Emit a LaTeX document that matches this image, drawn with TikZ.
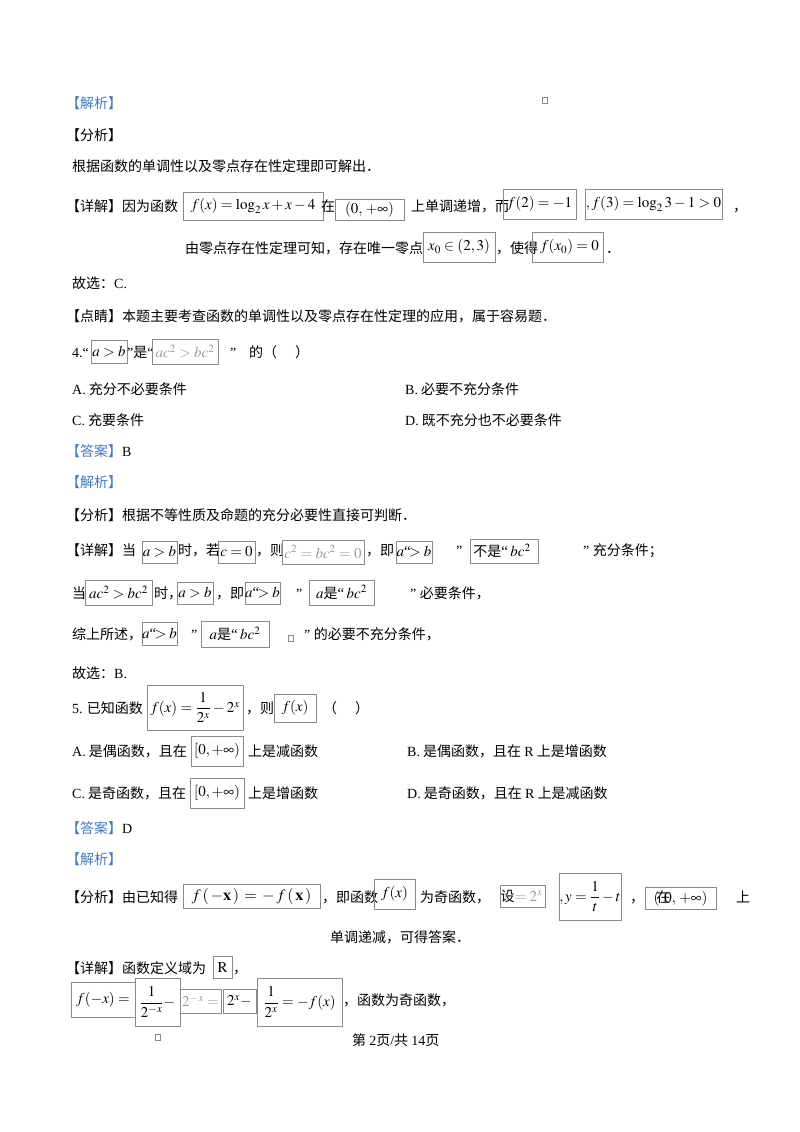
\documentclass[tikz,border=0pt]{standalone}
\usepackage{amsmath}
\usepackage{mathptmx}
\usepackage[no-math]{fontspec}
\setmainfont{Noto Sans CJK SC}
\newfontfamily\latin{Liberation Serif}
\newcommand\lat[1]{{\latin #1}}
\definecolor{hblue}{HTML}{3E7CC2}
\definecolor{bgray}{HTML}{8A8A8A}
\definecolor{lgray}{HTML}{9A9A9A}
\newcommand\fs{\fontsize{14}{16}\selectfont}
\newcommand\ms{\fontsize{15}{17}\selectfont}
\newcommand\mbx[6]{\node[mbox,minimum width=#4pt,minimum height=#5pt] (#1) at (#2,#3) {#6};}
\begin{document}
\begin{tikzpicture}[x=1pt,y=-1pt,
 txt/.style={anchor=base west,inner sep=0pt,font=\fs},
 hd/.style={txt,text=hblue},
 mbox/.style={draw=bgray,line width=0.7pt,inner sep=0pt,font=\ms,anchor=center},
 tinybox/.style={draw=bgray,line width=0.5pt,minimum width=5pt,minimum height=6pt,inner sep=0pt}]
\useasboundingbox[fill=white] (0,0) rectangle (800,1132);
% block 1
\node[hd] (h1) at (66,108) {【解析】};
\node[tinybox] (s1) at (545,100) {};
\node[txt] (h2) at (66,140) {【分析】};
\node[txt] (l3) at (72,171) {根据函数的单调性以及零点存在性定理即可解出．};
\node[txt] (l4a) at (66,211) {【详解】因为函数};
\mbx{b1}{253}{206}{140}{28}{$f(x)=\log_2 x+x-4$}
\node[txt] (l4b) at (321,211) {在};
\mbx{b2}{369.5}{209.5}{69}{21}{$(0,\,+\infty)$}
\node[txt] (l4c) at (411,211) {上单调递增，而};
\mbx{b3}{539.5}{204}{73}{30}{$f(2)=-1$}
\mbx{b4}{653.5}{204}{137}{30}{$,f(3)=\log_2 3-1>0$}
\node[txt] (l4d) at (733,211) {，};
\node[txt] (l5a) at (185,253) {由零点存在性定理可知，存在唯一零点};
\mbx{b5}{459}{247}{72}{30}{$x_0\in(2,3)$}
\node[txt] (l5b) at (496,253) {，使得};
\mbx{b6}{567.5}{247}{71}{30}{\hspace*{4pt}$f(x_0)=0$}
\node[txt] (l5c) at (606,253) {．};
\node[txt] (l6) at (72,288) {故选：\lat{C.}};
\node[txt] (l7) at (66,321) {【点睛】本题主要考查函数的单调性以及零点存在性定理的应用，属于容易题．};
% question 4
\node[txt] (q4a) at (72,357) {\lat{4.“}};
\mbx{b7}{109}{351.5}{36}{23}{$a>b$}
\node[txt] (q4b) at (127,357) {\lat{”}是\lat{“}};
\mbx{b8}{185}{351.5}{66}{25}{\color{lgray}$ac^2>bc^2$}
\node[txt] (q4c) at (230,357) {\lat{”}};
\node[txt] (q4d) at (249,357) {的（\hspace{18pt}）};
\node[txt] (oA) at (72,394) {\lat{A.} 充分不必要条件};
\node[txt] (oB) at (405,394) {\lat{B.} 必要不充分条件};
\node[txt] (oC) at (72,425) {\lat{C.} 充要条件};
\node[txt] (oD) at (405,425) {\lat{D.} 既不充分也不必要条件};
\node[txt] (ans4) at (66,456) {\textcolor{hblue}{【答案】}\lat{B}};
\node[hd] (jx4) at (66,487) {【解析】};
\node[txt] (fx4) at (66,520) {【分析】根据不等性质及命题的充分必要性直接可判断．};
\node[txt] (d1a) at (66,555) {【详解】当};
\mbx{b9}{159.5}{552}{35}{22}{$a>b$}
\node[txt] (d1b) at (178,555) {时，若};
\mbx{b10}{236.5}{552}{37}{22}{$c=0$}
\node[txt] (d1c) at (256,555) {，则};
\mbx{b11}{323}{552}{82}{24}{\color{lgray}$c^2=bc^2=0$}
\node[txt] (d1d) at (366,555) {，即};
\mbx{b12}{414}{552}{36}{22}{$a$\lat{“}$\!>b$}
\node[txt] (d1e) at (456,555) {\lat{”}};
\mbx{b13}{504}{551}{68}{24}{{\fs 不是}\lat{“}\,$bc^2$\hspace*{4pt}}
\node[txt] (d1g) at (583,555) {\lat{” }充分条件；};
\node[txt] (d2a) at (72,598) {当};
\mbx{b14}{118.5}{592.5}{67}{25}{$ac^2>bc^2$}
\node[txt] (d2b) at (154,598) {时，};
\mbx{b15}{195}{593}{36}{22}{$a>b$}
\node[txt] (d2c) at (216,598) {，即};
\mbx{b16}{262.5}{593}{35}{22}{$a$\lat{“}$\!>b$}
\node[txt] (d2d) at (296,598) {\lat{”}};
\mbx{b17}{341.5}{592.5}{65}{25}{$a${\fs 是}\lat{“}\,$bc^2$}
\node[txt] (d2e) at (410,598) {\lat{” }必要条件，};
\node[txt] (d3a) at (72,639) {综上所述，};
\mbx{b18}{159.5}{633.5}{35}{23}{$a$\lat{“}$\!>b$}
\node[txt] (d3b) at (191,639) {\lat{”}};
\mbx{b19}{235}{634}{68}{26}{$a${\fs 是}\lat{“}\,$bc^2$}
\node[tinybox] (s2) at (291,638) {};
\node[txt] (d3c) at (304,639) {\lat{” }的必要不充分条件，};
\node[txt] (d4) at (72,678) {故选：\lat{B.}};
% question 5
\node[txt] (q5a) at (72,713) {\lat{5.} 已知函数};
\mbx{b20}{195}{707.5}{96}{45}{$f(x)=\dfrac{1}{2^x}-2^x$}
\node[txt] (q5b) at (246,713) {，则};
\mbx{b21}{295}{708}{42}{28}{$f(x)$}
\node[txt] (q5c) at (323,713) {（\hspace{18pt}）};
\node[txt] (o5A) at (72,756) {\lat{A.} 是偶函数，且在};
\mbx{b22}{217}{751}{52}{30}{$[0,+\infty)$}
\node[txt] (o5Ab) at (248,756) {上是减函数};
\node[txt] (o5B) at (407,756) {\lat{B.} 是偶函数，且在 \lat{R} 上是增函数};
\node[txt] (o5C) at (72,798) {\lat{C.} 是奇函数，且在};
\mbx{b23}{217}{793}{54}{30}{$[0,+\infty)$}
\node[txt] (o5Cb) at (248,798) {上是增函数};
\node[txt] (o5D) at (407,798) {\lat{D.} 是奇函数，且在 \lat{R} 上是减函数};
\node[txt] (ans5) at (66,833) {\textcolor{hblue}{【答案】}\lat{D}};
\node[hd] (jx5) at (66,864) {【解析】};
\node[txt] (f5a) at (66,902) {【分析】由已知得};
\mbx{b24}{251.5}{896}{137}{24}{\fontsize{16}{18}\selectfont$f\,(\,-\mathbf{x}\,)\,=\,-\,f\,(\,\mathbf{x}\,)$}
\node[txt] (f5b) at (322,902) {，即函数};
\mbx{b25}{394.5}{894}{41}{30}{$f(x)$}
\node[txt] (f5c) at (420,902) {为奇函数，};
\mbx{b26}{523}{896}{44}{22}{{\fs 设}\color{lgray}$=2^x$\hspace*{3pt}}
\mbx{b27}{590}{896.5}{62}{47}{$,y=\dfrac{1}{t}-t$}
\node[txt] (f5e) at (630,902) {，};
\mbx{b28}{680.5}{898}{71}{22}{$(${\fs\hspace{-3pt}在\hspace{-6pt}}$0,\,+\infty)$}
\node[txt] (f5g) at (736,902) {上};
\node[txt] (f5h) at (330,942) {单调递减，可得答案．};
\node[txt] (x5a) at (66,973) {【详解】函数定义域为};
\mbx{b29}{222.5}{967}{19}{22}{$\mathrm{R}$}
\node[txt] (x5b) at (233,973) {，};
\mbx{b30}{103}{999.5}{64}{35}{$f(-x)=$}
\mbx{b31}{157.5}{1002}{45}{48}{$\dfrac{1}{2^{-x}}-$}
\mbx{b32}{200.5}{1001}{41}{24}{\color{lgray}$2^{-x}=$}
\mbx{b33}{239.5}{1001}{33}{24}{$2^x-$}
\mbx{b34}{299.5}{1002}{85}{48}{$\dfrac{1}{2^x}=-f(x)$}
\node[txt] (x5c) at (343,1005) {，函数为奇函数，};
\node[tinybox] (s3) at (158,1037) {};
\node[txt] (foot) at (352,1045) {第 \lat{2}页\lat{/}共 \lat{14}页};
\end{tikzpicture}
\end{document}
